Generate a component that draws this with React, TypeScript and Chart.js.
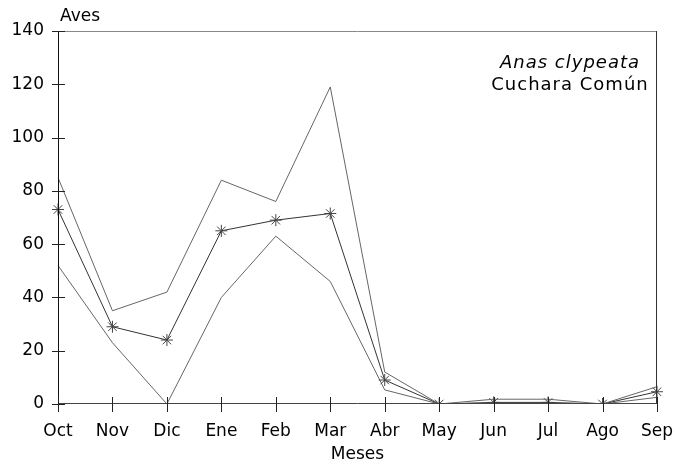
import React, { useEffect, useRef } from "react";
import { Chart, registerables } from "chart.js";

Chart.register(...registerables);

const months = ["Oct", "Nov", "Dic", "Ene", "Feb", "Mar", "Abr", "May", "Jun", "Jul", "Ago", "Sep"];
const upperValues = [85, 35, 42, 84, 76, 119, 12, 0, 1.8, 1.8, 0, 6.5];
const meanValues = [73, 29, 24, 65, 69, 71.5, 9, 0, 0.6, 0.6, 0, 4.6];
const lowerValues = [52, 23, 0, 40, 63, 46, 5.3, 0, 0, 0, 0, 2.5];
const yTicks = [0, 20, 40, 60, 80, 100, 120, 140];
const yAxisTitle = "Aves";
const xAxisTitle = "Meses";
const annotationLines = ["Anas clypeata", "Cuchara Común"];

const FONT = "'DejaVu Sans', 'Liberation Sans', Arial, sans-serif";

const framePlugin = {
  id: "frame",
  afterDraw(chart: any) {
    const { ctx, chartArea } = chart;
    const { left, right, top, bottom } = chartArea;
    const xs = chart.scales.x;
    const ys = chart.scales.y;
    ctx.save();
    ctx.strokeStyle = "#888";
    ctx.lineWidth = 1;
    ctx.beginPath();
    ctx.moveTo(left, top + 0.5);
    ctx.lineTo(right, top + 0.5);
    ctx.stroke();
    ctx.strokeStyle = "#333";
    ctx.beginPath();
    ctx.moveTo(right - 0.5, top);
    ctx.lineTo(right - 0.5, bottom);
    ctx.stroke();
    ctx.strokeStyle = "#111";
    ctx.beginPath();
    ctx.moveTo(left + 0.5, top);
    ctx.lineTo(left + 0.5, bottom);
    ctx.stroke();
    ctx.strokeStyle = "#444";
    ctx.beginPath();
    ctx.moveTo(left, bottom - 0.5);
    ctx.lineTo(right, bottom - 0.5);
    ctx.stroke();
    ctx.strokeStyle = "#222";
    yTicks.forEach((v) => {
      const y = Math.round(ys.getPixelForValue(v)) + 0.5;
      ctx.beginPath();
      ctx.moveTo(left - 6, y);
      ctx.lineTo(left + 7, y);
      ctx.stroke();
    });
    months.forEach((_, i) => {
      const x = Math.round(xs.getPixelForValue(i)) + 0.5;
      ctx.beginPath();
      ctx.moveTo(x, bottom - 7);
      ctx.lineTo(x, bottom + 8);
      ctx.stroke();
    });
    ctx.fillStyle = "#000";
    ctx.font = `17px ${FONT}`;
    ctx.textAlign = "left";
    ctx.textBaseline = "alphabetic";
    ctx.fillText(yAxisTitle, left + 2, 21);
    ctx.textAlign = "center";
    try { (ctx as any).letterSpacing = "1px"; } catch (e) {}
    ctx.font = `oblique 18px ${FONT}`;
    ctx.fillText(annotationLines[0], 570, 68);
    ctx.font = `18px ${FONT}`;
    ctx.fillText(annotationLines[1], 570, 90);
    try { (ctx as any).letterSpacing = "0px"; } catch (e) {}
    ctx.restore();
  },
};

export default function App() {
  const ref = useRef<HTMLCanvasElement | null>(null);
  useEffect(() => {
    document.body.style.margin = "0";
    const c = new Chart(ref.current as HTMLCanvasElement, {
      type: "line",
      data: {
        labels: months,
        datasets: [
          {
            data: upperValues,
            borderColor: "#666",
            borderWidth: 1,
            pointRadius: 0,
            tension: 0,
          },
          {
            data: meanValues,
            borderColor: "#333",
            borderWidth: 1,
            pointStyle: "star",
            pointRadius: 6,
            pointBorderColor: "#444",
            pointBorderWidth: 1,
            tension: 0,
          },
          {
            data: lowerValues,
            borderColor: "#666",
            borderWidth: 1,
            pointRadius: 0,
            tension: 0,
          },
        ],
      },
      options: {
        animation: false,
        responsive: false,
        maintainAspectRatio: false,
        layout: { padding: { top: 31, right: 23, left: 0, bottom: 0 } },
        plugins: { legend: { display: false }, tooltip: { enabled: false } },
        scales: {
          x: {
            type: "category",
            offset: false,
            grid: { display: false, drawTicks: false },
            border: { display: false },
            ticks: {
              color: "#000",
              font: { family: FONT, size: 17 },
              padding: 17,
              maxRotation: 0,
              autoSkip: false,
            },
            title: {
              display: true,
              text: xAxisTitle,
              color: "#000",
              font: { family: FONT, size: 17 },
              padding: { top: 0, bottom: 4 },
            },
            afterFit(scale: any) {
              scale.height = 65;
              scale.paddingLeft = 0;
              scale.paddingRight = 0;
            },
          },
          y: {
            min: 0,
            max: 140,
            grid: { display: false, drawTicks: false },
            border: { display: false },
            afterBuildTicks(scale: any) {
              scale.ticks = yTicks.map((v) => ({ value: v }));
            },
            ticks: {
              color: "#000",
              font: { family: FONT, size: 17 },
              padding: 14,
            },
            afterFit(scale: any) {
              scale.width = 58;
              scale.paddingTop = 0;
              scale.paddingBottom = 0;
            },
          },
        },
      },
      plugins: [framePlugin],
    });
    return () => c.destroy();
  }, []);
  return (
    <div style={{ position: "absolute", left: 0, top: 0, width: 680, height: 469, background: "#fff" }}>
      <canvas ref={ref} width={680} height={469} />
    </div>
  );
}
